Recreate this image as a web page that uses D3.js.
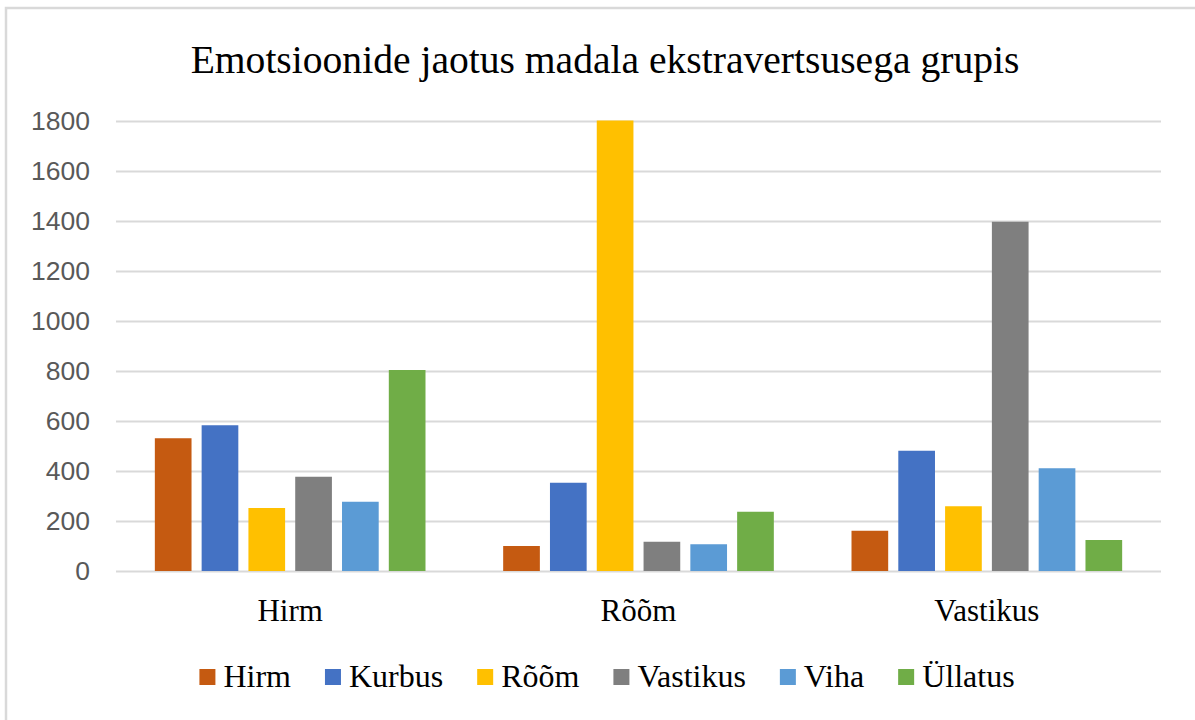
<!DOCTYPE html>
<html>
<head>
<meta charset="utf-8">
<script src="https://cdn.jsdelivr.net/npm/d3@7"></script>
<style>
  body { margin: 0; background: #fff; }
  svg { display: block; }
  .serif { font-family: "Liberation Serif", "Times New Roman", serif; }
</style>
</head>
<body>
<div id="chart"></div>
<script>
// categories on the x axis and the series drawn inside each group
let categories = ["Hirm", "Rõõm", "Vastikus"]
let series = ["Hirm", "Kurbus", "Rõõm", "Vastikus", "Viha", "Üllatus"]
let colors = ["#C55A11", "#4472C4", "#FFC000", "#7F7F7F", "#5B9BD5", "#70AD47"]

// one array per series, values for Hirm, Rõõm, Vastikus
let hirm = [531, 100, 161]
let kurbus = [583, 353, 481]
let room = [252, 1802, 259]
let vastikus = [377, 117, 1397]
let viha = [277, 107, 411]
let ullatus = [804, 237, 124]

let yTicks = [0, 200, 400, 600, 800, 1000, 1200, 1400, 1600, 1800]

let values = [hirm, kurbus, room, vastikus, viha, ullatus]

let width = 1195, height = 720
let margin = {top: 121, right: 34, bottom: 149, left: 116}
let plotW = width - margin.left - margin.right,
    plotH = height - margin.top - margin.bottom

let svg = d3.select("#chart").append("svg")
    .attr("width", width)
    .attr("height", height)

// outer chart border (cropped on right and bottom)
svg.append("rect")
  .attr("x", 6).attr("y", 8)
  .attr("width", 1300).attr("height", 900)
  .attr("fill", "none")
  .attr("stroke", "#D9D9D9")
  .attr("stroke-width", 2.5)

// title
svg.append("text")
  .attr("class", "serif")
  .attr("x", 605)
  .attr("y", 73)
  .attr("text-anchor", "middle")
  .style("font-size", "39.6px")
  .style("fill", "#000")
  .text("Emotsioonide jaotus madala ekstravertsusega grupis")

let g = svg.append("g")
    .attr("transform", "translate(" + margin.left + "," + margin.top + ")")

let x0 = d3.scaleBand()
    .domain(categories)
    .range([0, plotW])
    .padding(0)

let x1 = d3.scaleBand()
    .domain(series)
    .range([0, x0.bandwidth()])
    .paddingInner(0.216)
    .paddingOuter(0.83)

let y = d3.scaleLinear()
    .domain([0, 1800])
    .range([plotH, 0])

// gridlines + tick labels
let yAxis = d3.axisLeft(y)
    .tickValues(yTicks)
    .tickFormat(d3.format("d"))
    .tickSize(-plotW)
    .tickPadding(26)

let ya = g.append("g").attr("class", "y axis").call(yAxis)
ya.select(".domain").remove()
ya.selectAll(".tick line")
  .attr("stroke", "#D9D9D9")
  .attr("stroke-width", 2)
ya.selectAll(".tick text")
  .style("font-family", "'Liberation Sans', Arial, sans-serif")
  .style("font-size", "26.5px")
  .style("fill", "#595959")

// bars
let groups = g.selectAll(".group")
  .data(categories)
  .enter().append("g")
  .attr("class", "group")
  .attr("transform", d => "translate(" + x0(d) + ",0)")

groups.selectAll("rect")
  .data((c, ci) => series.map((s, si) => ({s: s, v: values[si][ci], i: si})))
  .enter().append("rect")
  .attr("x", d => x1(d.s))
  .attr("width", x1.bandwidth())
  .attr("y", d => y(d.v))
  .attr("height", d => plotH - y(d.v))
  .attr("fill", d => colors[d.i])

// category labels
let xAxis = d3.axisBottom(x0).tickSize(0).tickPadding(28)
let xa = g.append("g")
  .attr("transform", "translate(0," + plotH + ")")
  .call(xAxis)
xa.select(".domain").remove()
xa.selectAll(".tick text")
  .attr("class", "serif")
  .style("font-size", "31px")
  .style("fill", "#000")

// legend
let legend = svg.append("g").attr("class", "legend")
let items = legend.selectAll(".item")
  .data(series)
  .enter().append("g")
  .attr("class", "item")

items.append("rect")
  .attr("width", 16).attr("height", 16)
  .attr("y", 669)
  .attr("fill", (d, i) => colors[i])

items.append("text")
  .attr("class", "serif")
  .attr("x", 24)
  .attr("y", 687)
  .style("font-size", "32px")
  .style("fill", "#000")
  .text(d => d)

let gap = 34
let cursor = 0
items.each(function() {
  let w = d3.select(this).select("text").node().getComputedTextLength()
  d3.select(this).attr("transform", "translate(" + cursor + ",0)")
  cursor += 24 + w + gap
})
let total = cursor - gap
legend.attr("transform", "translate(" + (607 - total / 2) + ",0)")
</script>
</body>
</html>
